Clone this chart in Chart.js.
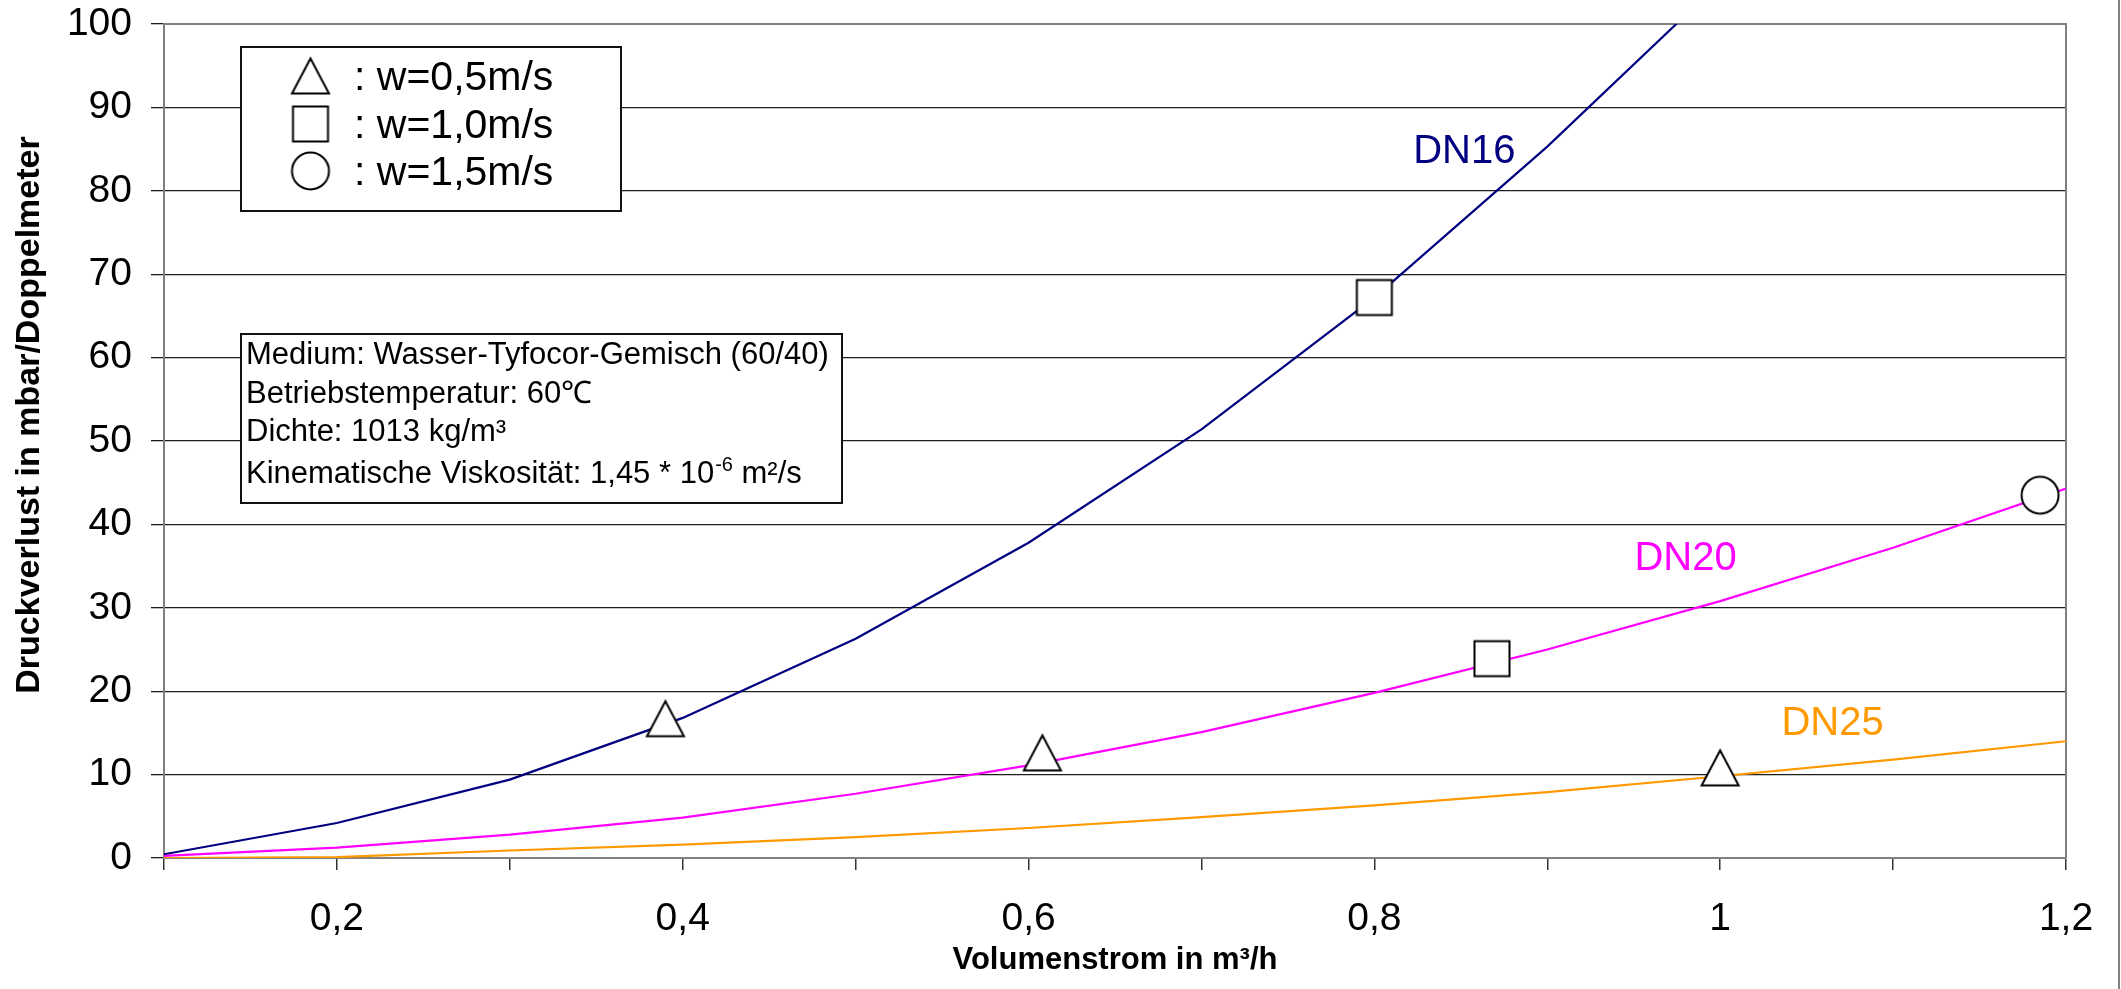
<!DOCTYPE html>
<html>
<head>
<meta charset="utf-8">
<title>Druckverlust</title>
<script src="https://cdn.jsdelivr.net/npm/chart.js@4/dist/chart.umd.min.js"></script>
<style>
  html, body { margin: 0; padding: 0; background: #fff; }
  #chart { display: block; }
</style>
</head>
<body>
<canvas id="chart" width="2121" height="989"></canvas>
<script>
// flow rates of the calculated points (m³/h)
const flowRates = [0.1, 0.2, 0.3, 0.4, 0.5, 0.6, 0.7, 0.8, 0.9, 1.0, 1.1, 1.2];

// pressure loss in mbar per double metre, one list per pipe size
const dn16Loss = [0.45, 4.2, 9.4, 16.8, 26.3, 37.8, 51.4, 67.2, 85.3, 105];
const dn20Loss = [0.25, 1.25, 2.8, 4.85, 7.7, 11.1, 15.1, 19.8, 25.0, 30.8, 37.2, 44.3];
const dn25Loss = [0.0, 0.1, 0.9, 1.6, 2.5, 3.6, 4.9, 6.3, 7.9, 9.8, 11.8, 14.0];

// flow speed markers
const w05Flow = [0.39, 0.608, 1.0];
const w05Loss = [16.7, 12.6, 10.8];
const w10Flow = [0.8, 0.868];
const w10Loss = [67.2, 23.9];
const w15Flow = [1.185];
const w15Loss = [43.5];

// axes
const xGrid = [0.1, 0.2, 0.3, 0.4, 0.5, 0.6, 0.7, 0.8, 0.9, 1.0, 1.1, 1.2];
const xTickValues = [0.2, 0.4, 0.6, 0.8, 1.0, 1.2];
const xTickLabels = ['0,2', '0,4', '0,6', '0,8', '1', '1,2'];
const xTitle = 'Volumenstrom in m³/h';
const yTitle = 'Druckverlust in mbar/Doppelmeter';

// series names, colours and where their labels sit (data units)
const seriesNames = ['DN16', 'DN20', 'DN25'];
const seriesColors = ['#000080', '#ff00ff', '#ff9900'];
const seriesLabelX = [0.852, 0.98, 1.065];
const seriesLabelY = [85.0, 36.2, 16.4];

const legendLabels = [': w=0,5m/s', ': w=1,0m/s', ': w=1,5m/s'];
const infoLines = [
  'Medium: Wasser-Tyfocor-Gemisch (60/40)',
  'Betriebstemperatur: 60℃',
  'Dichte: 1013 kg/m³'
];
const infoLast = ['Kinematische Viskosität: 1,45 * 10', '-6', ' m²/s'];

const FONT = '"Liberation Sans", Arial, sans-serif';

// white symbols with a black outline, used by the chart and the legend box
function markerImage(kind) {
  const c = document.createElement('canvas');
  c.width = 42;
  c.height = 42;
  const g = c.getContext('2d');
  g.fillStyle = '#fff';
  g.strokeStyle = '#000';
  g.lineWidth = 2;
  g.beginPath();
  if (kind === 'triangle') {
    g.moveTo(21, 3.5);
    g.lineTo(39.5, 38.5);
    g.lineTo(2.5, 38.5);
    g.closePath();
  } else if (kind === 'square') {
    g.rect(3.5, 3.5, 35, 35);
  } else {
    g.arc(21, 21, 18.5, 0, Math.PI * 2);
  }
  g.fill();
  g.stroke();
  return c;
}
const markers = [markerImage('triangle'), markerImage('square'), markerImage('circle')];

function points(xs, ys) {
  return ys.map((y, i) => ({ x: xs[i], y }));
}

function lineSet(i, loss) {
  return {
    label: seriesNames[i],
    data: points(flowRates, loss),
    borderColor: seriesColors[i],
    borderWidth: 2.2,
    pointRadius: 0,
    tension: 0,
    order: 1
  };
}

function markerSet(label, xs, ys, img) {
  return {
    label,
    data: points(xs, ys),
    showLine: false,
    pointStyle: img,
    pointRadius: 19,
    clip: false,
    order: 0
  };
}

// no extra room for the outer tick labels, the frame is fixed
function noPadding(s) {
  s.paddingTop = 0;
  s.paddingBottom = 0;
  s.paddingLeft = 0;
  s.paddingRight = 0;
}

const decorations = {
  id: 'decorations',
  beforeDatasetsDraw(chart) {
    const { ctx, chartArea: a } = chart;
    ctx.save();
    // plot frame top / right and outer frame edge
    ctx.strokeStyle = '#808080';
    ctx.lineWidth = 2;
    ctx.beginPath();
    ctx.moveTo(a.left, a.top);
    ctx.lineTo(a.right, a.top);
    ctx.lineTo(a.right, a.bottom);
    ctx.stroke();
    ctx.beginPath();
    ctx.moveTo(2119, 0);
    ctx.lineTo(2119, chart.height);
    ctx.stroke();

    // legend box
    ctx.fillStyle = '#fff';
    ctx.strokeStyle = '#111';
    ctx.fillRect(241, 47, 380, 164);
    ctx.strokeRect(241, 47, 380, 164);
    const rowY = [76, 124, 171];
    ctx.fillStyle = '#000';
    ctx.font = '41px ' + FONT;
    ctx.textBaseline = 'alphabetic';
    ctx.textAlign = 'left';
    rowY.forEach((y, i) => {
      ctx.drawImage(markers[i], 310.5 - 21, y - 21);
      ctx.fillText(legendLabels[i], 354, y + 14);
    });

    // info box
    ctx.fillStyle = '#fff';
    ctx.fillRect(241, 334, 601, 169);
    ctx.strokeRect(241, 334, 601, 169);
    ctx.fillStyle = '#000';
    ctx.font = '31px ' + FONT;
    const base = [364, 403, 441];
    infoLines.forEach((t, i) => ctx.fillText(t, 246, base[i]));
    let x = 246;
    ctx.fillText(infoLast[0], x, 483);
    x += ctx.measureText(infoLast[0]).width + 1;
    ctx.font = '20px ' + FONT;
    ctx.fillText(infoLast[1], x, 471);
    x += ctx.measureText(infoLast[1]).width;
    ctx.font = '31px ' + FONT;
    ctx.fillText(infoLast[2], x, 483);
    ctx.restore();
  },
  afterDraw(chart) {
    const { ctx, scales } = chart;
    ctx.save();
    ctx.font = '40px ' + FONT;
    ctx.textAlign = 'center';
    ctx.textBaseline = 'alphabetic';
    seriesNames.forEach((name, i) => {
      ctx.fillStyle = seriesColors[i];
      ctx.fillText(name, scales.x.getPixelForValue(seriesLabelX[i]),
        scales.y.getPixelForValue(seriesLabelY[i]) + 14);
    });
    // y axis title
    ctx.fillStyle = '#000';
    ctx.font = 'bold 34px ' + FONT;
    ctx.translate(30, 415);
    ctx.rotate(-Math.PI / 2);
    ctx.textBaseline = 'middle';
    ctx.fillText(yTitle, 0, 0);
    ctx.restore();
  }
};

new Chart(document.getElementById('chart'), {
  type: 'line',
  data: {
    datasets: [
      markerSet('w=0,5m/s', w05Flow, w05Loss, markers[0]),
      markerSet('w=1,0m/s', w10Flow, w10Loss, markers[1]),
      markerSet('w=1,5m/s', w15Flow, w15Loss, markers[2]),
      lineSet(0, dn16Loss),
      lineSet(1, dn20Loss),
      lineSet(2, dn25Loss)
    ]
  },
  options: {
    responsive: false,
    animation: false,
    devicePixelRatio: 1,
    layout: { padding: { top: 24, right: 55, bottom: 0, left: 0 } },
    plugins: {
      legend: { display: false },
      tooltip: { enabled: false }
    },
    scales: {
      x: {
        type: 'linear',
        min: 0.1,
        max: 1.2,
        afterFit: s => { s.height = 131; noPadding(s); },
        afterBuildTicks: s => { s.ticks = xGrid.map(v => ({ value: v })); },
        grid: { drawOnChartArea: false, tickLength: 12, color: '#333', lineWidth: 1.5 },
        border: { color: '#808080', width: 2 },
        ticks: {
          autoSkip: false,
          maxRotation: 0,
          padding: 26,
          color: '#000',
          font: { family: FONT, size: 39 },
          callback: v => {
            const i = xTickValues.findIndex(t => Math.abs(t - v) < 1e-6);
            return i < 0 ? '' : xTickLabels[i];
          }
        },
        title: {
          display: true,
          text: xTitle,
          color: '#000',
          font: { family: FONT, size: 31, weight: 'bold' },
          padding: { top: 0, bottom: 10 }
        }
      },
      y: {
        min: 0,
        max: 100,
        afterFit: s => { s.width = 164; noPadding(s); },
        grid: { color: '#1e1e1e', lineWidth: 1.3, tickLength: 13 },
        border: { color: '#808080', width: 2 },
        ticks: {
          stepSize: 10,
          padding: 19,
          color: '#000',
          font: { family: FONT, size: 39 }
        }
      }
    }
  },
  plugins: [decorations]
});
</script>
</body>
</html>
